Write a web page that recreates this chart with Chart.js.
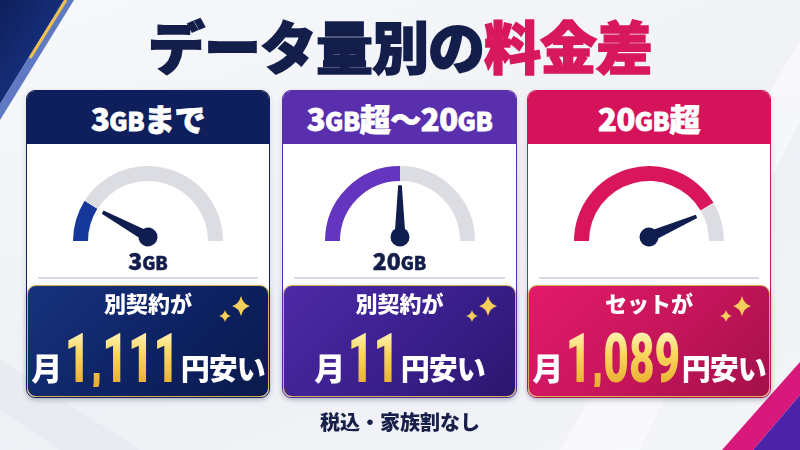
<!DOCTYPE html>
<html lang="ja">
<head>
<meta charset="utf-8">
<script src="https://cdn.jsdelivr.net/npm/chart.js@4.4.1/dist/chart.umd.min.js"></script>
<style>
  html, body { margin: 0; padding: 0; }
  body {
    width: 800px; height: 450px; overflow: hidden; position: relative;
    background: linear-gradient(160deg, #f7f8fb 0%, #eef0f5 60%, #f4f5f9 100%);
    font-family: "Noto Sans CJK JP", "Noto Sans", sans-serif;
  }
  #deco { position: absolute; left: 0; top: 0; }
  .title {
    position: absolute; left: 0; top: 12px; width: 800px; text-align: center;
    font-size: 57px; font-weight: 900; color: #141e4b; letter-spacing: -1px; line-height: 64px;
    -webkit-text-stroke: 1.5px #141e4b;
  }
  .title .hl { color: #d8185c; -webkit-text-stroke: 1.5px #d8185c; }
  .card {
    position: absolute; top: 90px; height: 308px; background: #fff;
    border: 1.5px solid; border-radius: 9px; box-sizing: border-box; overflow: hidden;
    box-shadow: 0 2px 6px rgba(20,30,70,0.12);
  }
  .head {
    height: 53px; color: #fff; text-align: center; font-weight: 900;
    font-size: 31px; line-height: 53px; letter-spacing: -0.5px;
    -webkit-text-stroke: 0.8px #fff;
  }
  .head .gb { font-size: 25px; }
  .gauge { position: absolute; }
  .glabel {
    position: absolute; width: 120px; text-align: center; top: 246px;
    font-size: 23px; font-weight: 900; color: #141e4b; line-height: 28px;
    -webkit-text-stroke: 0.5px #141e4b;
  }
  .glabel .gb { font-size: 18px; }
  .sep { position: absolute; top: 277px; height: 1.5px; background: #d6d9e2; }
  .box {
    position: absolute; top: 285px; height: 112px; box-sizing: border-box;
    border: 1.5px solid #d9b05a; border-radius: 9px; color: #fff; text-align: center;
    box-shadow: 0 2px 5px rgba(20,30,70,0.25);
  }
  .lead { position: absolute; left: 0; right: 0; top: 3px; font-size: 22px; font-weight: 900; line-height: 26px; }
  .line2 { position: absolute; left: 0; right: 0; top: 45px; height: 56px; white-space: nowrap; text-align: center; }
  .line2 .unit { font-size: 31px; font-weight: 900; vertical-align: bottom; line-height: 40px; }
  .line2 .tail { font-size: 29px; font-weight: 900; vertical-align: bottom; line-height: 40px; letter-spacing: -1px; }
  .num {
    display: inline-block; font-family: Roboto, "Liberation Sans", sans-serif; font-weight: 900;
    font-size: 68px; line-height: 56px; vertical-align: bottom; transform: scaleX(0.65);
    background: linear-gradient(180deg, #fff4b8 0%, #f9d75e 40%, #e8ac2c 100%);
    -webkit-background-clip: text; background-clip: text; color: transparent;
  }
  .spark { position: absolute; }
  .foot {
    position: absolute; left: 0; top: 409px; width: 800px; text-align: center;
    font-size: 20px; font-weight: 900; color: #18204a; line-height: 26px;
  }
</style>
</head>
<body>
<svg id="deco" width="800" height="450">
  <defs>
    <linearGradient id="tl" x1="0" y1="0" x2="1" y2="1">
      <stop offset="0" stop-color="#0e1f5b"/>
      <stop offset="1" stop-color="#1d3b94"/>
    </linearGradient>
  </defs>
  <polygon points="0,0 64,0 0,104" fill="url(#tl)"/>
  <polygon points="64,0 74,0 0,120 0,104" fill="#2c4fb0" opacity="0.75"/>
  <line x1="66" y1="0" x2="30" y2="58" stroke="#f1c24a" stroke-width="3"/>
  <polygon points="560,450 800,40 800,120 640,450" fill="#ffffff" opacity="0.45"/>
  <polygon points="0,360 140,450 60,450 0,410" fill="#e4e7ef" opacity="0.6"/>
  <polygon points="722,450 800,362 800,395 753,450" fill="#d8187a"/>
  <polygon points="753,450 800,395 800,450" fill="#4b23a8"/>
</svg>
<div class="title">データ量別の<span class="hl">料金差</span></div>
<div id="cards"></div>
<div class="foot">税込・家族割なし</div>

<script>
// ---- data ----
const tiers = ['3GBまで', '3GB超〜20GB', '20GB超'];
const gaugeLabels = ['3GB', '20GB', ''];
const gaugeFill = [18, 50, 83];   // % of the dial that is coloured
const needlePos = [16, 50, 87];   // % where the needle points
const leadText = ['別契約が', '別契約が', 'セットが'];
const savings = ['1,111', '11', '1,089'];

// ---- look of each card ----
const cardLeft = [26, 282, 527];
const cardWidth = [244, 235, 244];
const headColor = ['#0e1f5b', '#5a2fae', '#d5135a'];
const fillColor = ['#16389a', '#6436bf', '#d9155c'];
const boxBg = [
  'linear-gradient(135deg, #17337e 0%, #0d2263 55%, #0a1a4c 100%)',
  'linear-gradient(135deg, #4d2aa6 0%, #3a1f8c 55%, #2a166e 100%)',
  'linear-gradient(135deg, #e41a68 0%, #c4155a 55%, #a3104a 100%)'
];
const NEEDLE = '#0f1d4f';
const TRACK = '#dcdde3';
const SQUEEZE = 0.65;

function gbSpan(txt, cls) {
  return txt.replace(/GB/g, '<span class="' + cls + '">GB</span>');
}

// needle + hub drawn on top of the doughnut, angle taken from the arc itself
const needlePlugin = {
  id: 'needle',
  afterDatasetsDraw(chart, args, opts) {
    const arc = chart.getDatasetMeta(0).data[0];
    const total = chart.data.datasets[0].data.reduce((a, b) => a + b, 0);
    const circ = chart.options.circumference * Math.PI / 180;
    const ang = arc.startAngle + opts.value / total * circ;
    const cx = arc.x, cy = arc.y - 4;
    const len = arc.outerRadius * 0.69;
    const ctx = chart.ctx;
    ctx.save();
    ctx.translate(cx, cy);
    ctx.rotate(ang);
    ctx.fillStyle = NEEDLE;
    ctx.beginPath();
    ctx.moveTo(0, -5.5);
    ctx.lineTo(len, -1.8);
    ctx.lineTo(len, 1.8);
    ctx.lineTo(0, 5.5);
    ctx.closePath();
    ctx.fill();
    ctx.beginPath();
    ctx.arc(0, 0, 9.5, 0, Math.PI * 2);
    ctx.fill();
    ctx.restore();
  }
};

const wrap = document.getElementById('cards');

tiers.forEach((tier, i) => {
  const L = cardLeft[i], W = cardWidth[i];

  const card = document.createElement('div');
  card.className = 'card';
  card.style.left = L + 'px';
  card.style.width = W + 'px';
  card.style.borderColor = headColor[i];
  card.innerHTML = '<div class="head" style="background:' + headColor[i] + '">' + gbSpan(tier, 'gb') + '</div>';
  wrap.appendChild(card);

  // gauge canvas, centre of dial at card centre, y = 241
  const cx = L + W / 2;
  const cv = document.createElement('canvas');
  cv.className = 'gauge';
  cv.width = 170; cv.height = 100;
  cv.style.left = (cx - 85) + 'px';
  cv.style.top = (241 - 80) + 'px';
  wrap.appendChild(cv);

  new Chart(cv, {
    type: 'doughnut',
    data: {
      labels: ['used', 'rest'],
      datasets: [{
        data: [gaugeFill[i], 100 - gaugeFill[i]],
        backgroundColor: [fillColor[i], TRACK],
        borderWidth: 0
      }]
    },
    options: {
      responsive: false,
      animation: false,
      rotation: -90,
      circumference: 180,
      cutout: '80%',
      layout: { padding: { left: 10, right: 10, top: 5, bottom: 20 } },
      plugins: {
        legend: { display: false },
        tooltip: { enabled: false },
        needle: { value: needlePos[i] }
      }
    },
    plugins: [needlePlugin]
  });

  if (gaugeLabels[i]) {
    const gl = document.createElement('div');
    gl.className = 'glabel';
    gl.style.left = (cx - 60) + 'px';
    gl.innerHTML = gbSpan(gaugeLabels[i], 'gb');
    wrap.appendChild(gl);
  }

  const sep = document.createElement('div');
  sep.className = 'sep';
  sep.style.left = (L + 12) + 'px';
  sep.style.width = (W - 24) + 'px';
  wrap.appendChild(sep);

  const box = document.createElement('div');
  box.className = 'box';
  box.style.left = (L + 1) + 'px';
  box.style.width = (W - 2) + 'px';
  box.style.background = boxBg[i];
  box.innerHTML =
    '<div class="lead">' + leadText[i] + '</div>' +
    '<div class="line2"><span class="unit">月</span><span class="num">' + savings[i] +
    '</span><span class="tail">円安い</span></div>' +
    '<svg class="spark" width="40" height="34" style="right:14px;top:8px">' +
    '<path d="M27 2 Q29 10 36 12 Q29 14 27 22 Q25 14 18 12 Q25 10 27 2Z" fill="#f6cf5a"/>' +
    '<path d="M11 16 Q12.3 21 17 22 Q12.3 23 11 28 Q9.7 23 5 22 Q9.7 21 11 16Z" fill="#f6cf5a"/>' +
    '</svg>';
  wrap.appendChild(box);
});

// the big numbers are squeezed horizontally; pull the margins in to match
document.querySelectorAll('.num').forEach(el => {
  const w = el.getBoundingClientRect().width / SQUEEZE;
  const m = -(w * (1 - SQUEEZE)) / 2 + 2;
  el.style.marginLeft = m + 'px';
  el.style.marginRight = m + 'px';
});
</script>
</body>
</html>
